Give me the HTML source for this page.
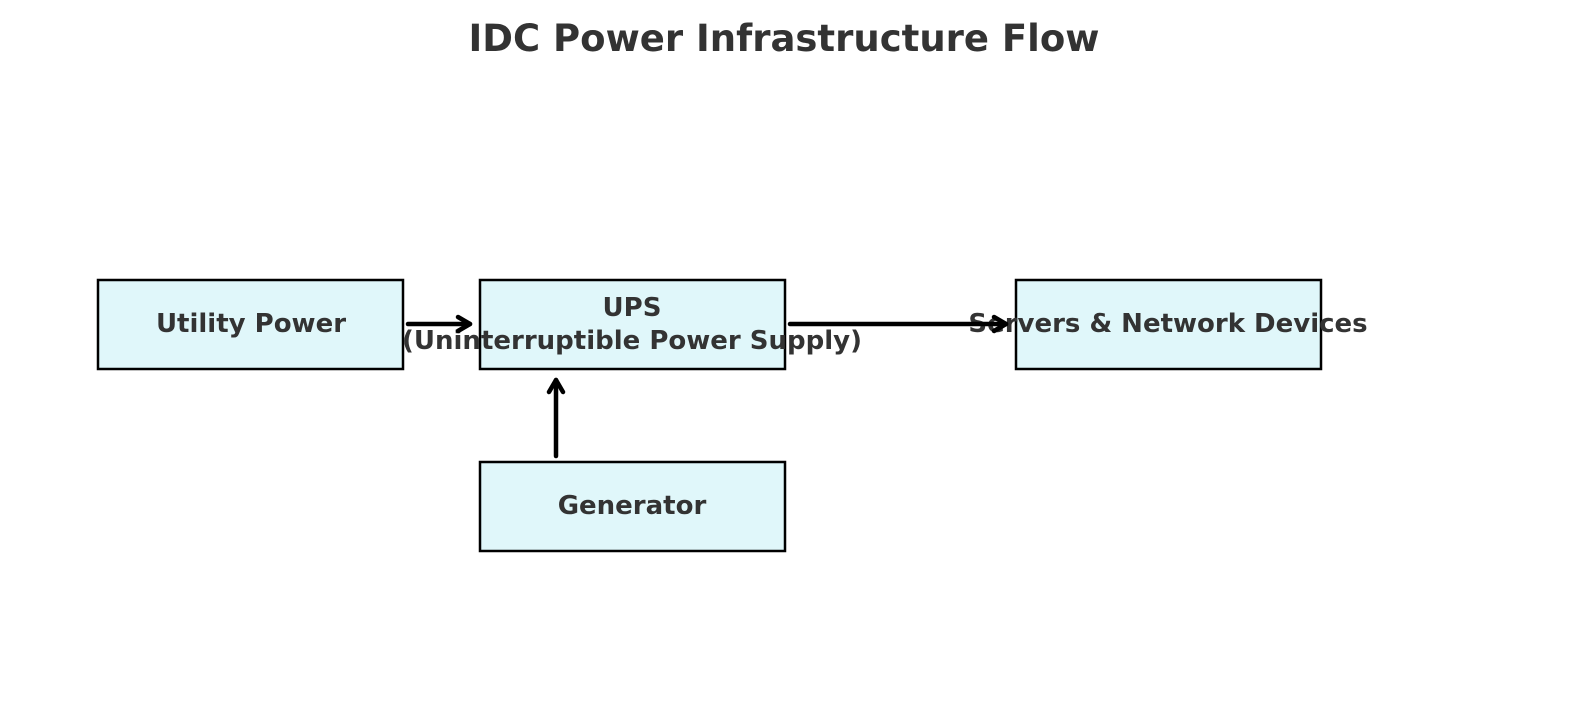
<!DOCTYPE html>
<html><head><meta charset="utf-8"><style>html,body{margin:0;padding:0;background:#fff}</style></head>
<body>
<svg width="1589" height="702" viewBox="0 0 1589 702" xmlns="http://www.w3.org/2000/svg" font-family="'DejaVu Sans', 'Liberation Sans', sans-serif" font-weight="bold">
<rect width="1589" height="702" fill="#fff"/>
<text x="784" y="51" text-anchor="middle" font-size="37" fill="#333">IDC Power Infrastructure Flow</text>
<g fill="#e0f7fa" stroke="#000" stroke-width="2.5">
<rect x="98" y="280" width="305" height="89"/>
<rect x="480" y="280" width="305" height="89"/>
<rect x="1016" y="280" width="305" height="89"/>
<rect x="480" y="462" width="305" height="89"/>
</g>
<g font-size="26" fill="#333" text-anchor="middle">
<text x="251" y="332">Utility Power</text>
<text x="632" y="316">UPS</text>
<text x="632" y="349">(Uninterruptible Power Supply)</text>
<text x="1168" y="332">Servers &amp; Network Devices</text>
<text x="632" y="514">Generator</text>
</g>
<g stroke="#000" stroke-width="4.5" fill="none" stroke-linecap="round" stroke-linejoin="round">
<line x1="408" y1="324" x2="470" y2="324"/><polyline points="458,317 470,324 458,331"/>
<line x1="790" y1="324" x2="1006" y2="324"/><polyline points="994,317 1006,324 994,331"/>
<line x1="556" y1="456" x2="556" y2="380"/><polyline points="549,392 556,380 563,392"/>
</g>
</svg>
</body></html>
